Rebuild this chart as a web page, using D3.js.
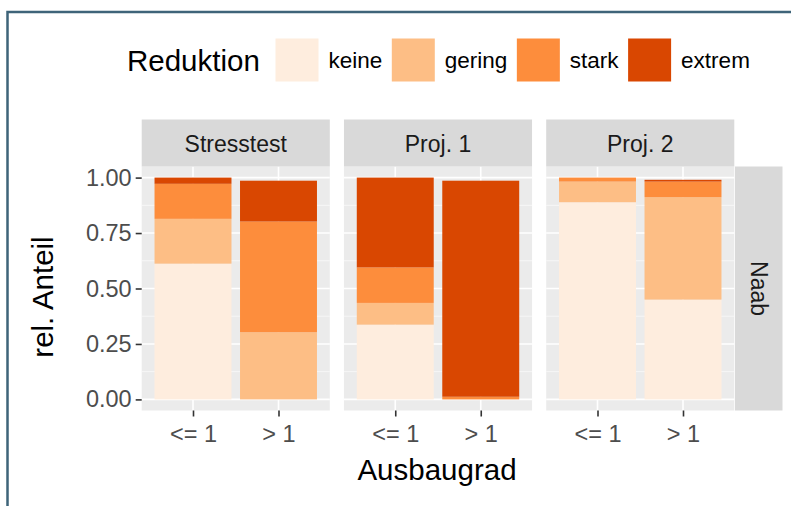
<!DOCTYPE html>
<html>
<head>
<meta charset="utf-8">
<script src="https://cdn.jsdelivr.net/npm/d3@7"></script>
<style>
  body { margin: 0; background: #fff; }
  svg text { font-family: "Liberation Sans", Arial, sans-serif; }
</style>
</head>
<body>
<svg id="chart" width="791" height="506"></svg>
<script>
// --- data ---
const facets = ["Stresstest", "Proj. 1", "Proj. 2"];
const ausbaugrad = ["<= 1", "> 1"];
const reduktion = ["keine", "gering", "stark", "extrem"];
const colors = ["#feedde", "#fdbe85", "#fd8d3c", "#d94701"];
// shares per facet, [<= 1, > 1]
const keine  = [[0.612, 0.000], [0.337, 0.000], [0.889, 0.450]];
const gering = [[0.202, 0.303], [0.098, 0.000], [0.093, 0.462]];
const stark  = [[0.158, 0.499], [0.160, 0.012], [0.018, 0.070]];
const extrem = [[0.028, 0.184], [0.405, 0.974], [0.000, 0.008]];
const yTicks = [0, 0.25, 0.5, 0.75, 1];
const yMinor = [0.125, 0.375, 0.625, 0.875];
const rowLabel = "Naab";

const series = [keine, gering, stark, extrem];

// build rows for stacking
const rows = [];
facets.forEach((f, fi) => {
  ausbaugrad.forEach((a, ai) => {
    const r = { facet: f, grad: a };
    reduktion.forEach((k, ki) => r[k] = series[ki][fi][ai]);
    rows.push(r);
  });
});
const stacked = d3.stack().keys(reduktion)(rows);

const svg = d3.select("#chart");
const color = d3.scaleOrdinal().domain(reduktion).range(colors);

// layout
const pTop = 166.5, pBottom = 410.5;
const panelX = d3.scaleBand().domain(facets).range([141.7, 734.3]).paddingInner(0.07);
const y = d3.scaleLinear().domain([-0.05, 1.05]).range([pBottom, pTop]);
const x = d3.scalePoint().domain(ausbaugrad).range([0, panelX.bandwidth()]).padding(0.6);
const barW = x.step() * 0.9;

// border
svg.append("path")
  .attr("d", "M7.5,506 V12 H791")
  .attr("fill", "none")
  .attr("stroke", "#3e6479")
  .attr("stroke-width", 2.5);

// panels
facets.forEach(f => {
  const g = svg.append("g").attr("transform", `translate(${panelX(f)},0)`);
  const w = panelX.bandwidth();
  g.append("rect").attr("x", 0).attr("y", pTop).attr("width", w).attr("height", pBottom - pTop).attr("fill", "#ebebeb");
  g.selectAll("line.minor").data(yMinor).join("line")
    .attr("x1", 0).attr("x2", w).attr("y1", d => y(d)).attr("y2", d => y(d))
    .attr("stroke", "#fff").attr("stroke-width", 0.8).attr("opacity", 0.8);
  g.selectAll("line.major").data(yTicks).join("line")
    .attr("x1", 0).attr("x2", w).attr("y1", d => y(d)).attr("y2", d => y(d))
    .attr("stroke", "#fff").attr("stroke-width", 1.6);
  g.selectAll("line.vx").data(ausbaugrad).join("line")
    .attr("x1", d => x(d)).attr("x2", d => x(d)).attr("y1", pTop).attr("y2", pBottom)
    .attr("stroke", "#fff").attr("stroke-width", 1.6);

  // bars
  stacked.forEach(layer => {
    g.selectAll(null).data(layer.filter(d => d.data.facet === f && d[1] - d[0] > 0)).join("rect")
      .attr("x", d => x(d.data.grad) - barW / 2)
      .attr("width", barW)
      .attr("y", d => y(d[1]))
      .attr("height", d => y(d[0]) - y(d[1]))
      .attr("fill", color(layer.key));
  });

  // strip
  g.append("rect").attr("x", 0).attr("y", 119.5).attr("width", w).attr("height", pTop - 119.5).attr("fill", "#d9d9d9");
  g.append("text").attr("x", w / 2).attr("y", 143.5)
    .attr("text-anchor", "middle").attr("dominant-baseline", "central")
    .attr("font-size", 23).attr("fill", "#1a1a1a").text(f);

  // x axis
  const xa = g.append("g").attr("transform", `translate(0,${pBottom})`)
    .call(d3.axisBottom(x).tickSize(6).tickPadding(9));
  xa.select(".domain").remove();
  xa.selectAll(".tick line").attr("stroke", "#333").attr("stroke-width", 1.6);
  xa.selectAll(".tick text").attr("font-size", 23.5).attr("fill", "#4d4d4d").attr("font-family", null);
});

// right strip
const rsX = 735, rsW = 47.5;
svg.append("rect").attr("x", rsX).attr("y", pTop).attr("width", rsW).attr("height", pBottom - pTop).attr("fill", "#d9d9d9");
svg.append("text")
  .attr("transform", `translate(${rsX + rsW / 2},${(pTop + pBottom) / 2}) rotate(90)`)
  .attr("text-anchor", "middle").attr("dominant-baseline", "central")
  .attr("font-size", 23).attr("fill", "#1a1a1a").text(rowLabel);

// y axis
const ya = svg.append("g").attr("transform", `translate(${panelX(facets[0])},0)`)
  .call(d3.axisLeft(y).tickValues(yTicks).tickFormat(d3.format(".2f")).tickSize(6).tickPadding(4));
ya.select(".domain").remove();
ya.selectAll(".tick line").attr("stroke", "#333").attr("stroke-width", 1.6);
ya.selectAll(".tick text").attr("font-size", 23.5).attr("fill", "#4d4d4d").attr("font-family", null);

// axis titles
svg.append("text").attr("x", 437).attr("y", 480)
  .attr("text-anchor", "middle").attr("font-size", 29.5).attr("fill", "#000").text("Ausbaugrad");
svg.append("text")
  .attr("transform", `translate(53,297) rotate(-90)`)
  .attr("text-anchor", "middle").attr("font-size", 29.5).attr("fill", "#000").text("rel. Anteil");

// legend
const legY = 60;
svg.append("text").attr("x", 127).attr("y", legY).attr("dominant-baseline", "central")
  .attr("font-size", 29.5).attr("fill", "#000").text("Reduktion");
let lx = 275.5;
reduktion.forEach(k => {
  svg.append("rect").attr("x", lx).attr("y", legY - 21.5).attr("width", 43).attr("height", 43).attr("fill", color(k));
  const t = svg.append("text").attr("x", lx + 53).attr("y", legY).attr("dominant-baseline", "central")
    .attr("font-size", 22.5).attr("fill", "#000").text(k);
  lx += 53 + t.node().getComputedTextLength() + 9.5;
});
</script>
</body>
</html>
